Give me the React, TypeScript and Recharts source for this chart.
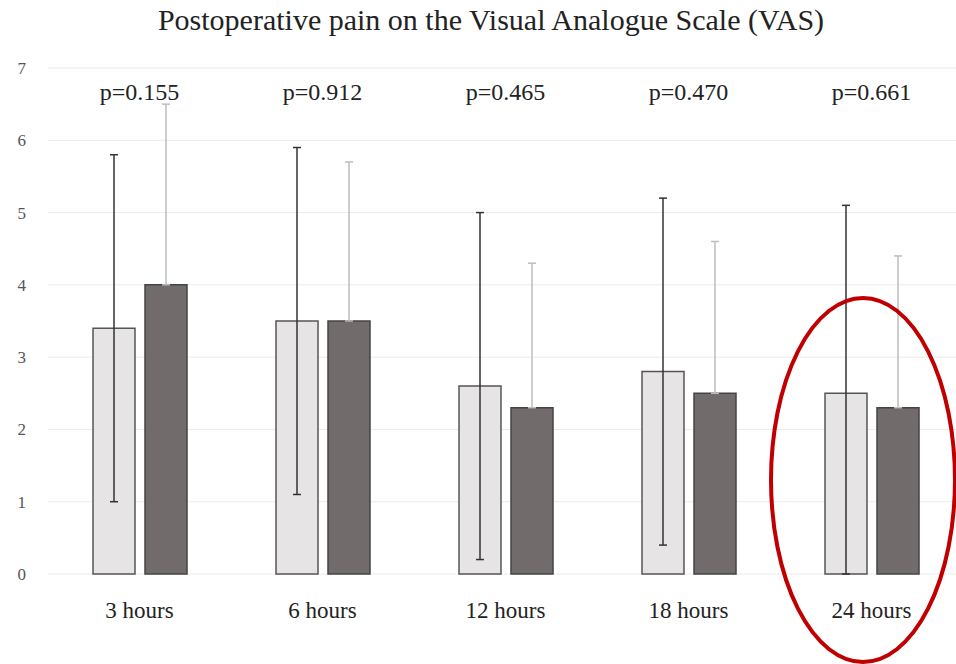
import React from 'react';
import { ComposedChart, Bar, Line, XAxis, YAxis, CartesianGrid, ErrorBar, LabelList } from 'recharts';

const categories = ['3 hours', '6 hours', '12 hours', '18 hours', '24 hours'];
const lightMean = [3.4, 3.5, 2.6, 2.8, 2.5];
const lightLow = [1.0, 1.1, 0.2, 0.4, 0.0];
const lightHigh = [5.8, 5.9, 5.0, 5.2, 5.1];
const darkMean = [4.0, 3.5, 2.3, 2.5, 2.3];
const darkHigh = [6.5, 5.7, 4.3, 4.6, 4.4];
const pValues = ['p=0.155', 'p=0.912', 'p=0.465', 'p=0.470', 'p=0.661'];
const yTicks = [0, 1, 2, 3, 4, 5, 6, 7];

// height (in VAS units) where the p-values sit
const P_LEVEL = 6.67;

const data = categories.map((name, i) => ({
  name,
  light: lightMean[i],
  lightErr: [lightMean[i] - lightLow[i], lightHigh[i] - lightMean[i]],
  dark: darkMean[i],
  darkErr: [0, darkHigh[i] - darkMean[i]],
  p: pValues[i],
}));

const serif = '"Liberation Serif", "DejaVu Serif", serif';

export default function App() {
  return (
    <div style={{ position: 'absolute', left: 0, top: 0, width: 956, height: 664, overflow: 'hidden', background: '#fff' }}>
      <div
        style={{
          position: 'absolute',
          top: 3,
          left: 0,
          width: 982,
          textAlign: 'center',
          fontFamily: serif,
          fontSize: 30,
          color: '#222',
          whiteSpace: 'nowrap',
        }}
      >
        Postoperative pain on the Visual Analogue Scale (VAS)
      </div>
      <ComposedChart
        width={975}
        height={664}
        data={data}
        margin={{ top: 68, right: 12, left: 0, bottom: 50 }}
        barSize={42}
        barGap={10}
        style={{ position: 'absolute', left: 0, top: 0 }}
      >
        <CartesianGrid horizontal vertical={false} stroke="#ebebeb" />
        <XAxis
          dataKey="name"
          axisLine={false}
          tickLine={false}
          tickMargin={22}
          tick={{ fill: '#222', fontSize: 23, fontFamily: serif }}
          height={40}
        />
        <YAxis
          domain={[0, 7]}
          ticks={yTicks}
          axisLine={false}
          tickLine={false}
          width={48}
          tickMargin={16}
          tick={{ fill: '#555', fontSize: 17, fontFamily: serif }}
        />
        <Bar dataKey="light" fill="#e6e4e4" stroke="#555" strokeWidth={1.5} isAnimationActive={false}>
          <ErrorBar dataKey="lightErr" width={4} stroke="#333" strokeWidth={1.5} direction="y" isAnimationActive={false} />
        </Bar>
        <Bar dataKey="dark" fill="#716b6b" stroke="#444" strokeWidth={1.5} isAnimationActive={false}>
          <ErrorBar dataKey="darkErr" width={4} stroke="#bdbdbd" strokeWidth={1.5} direction="y" isAnimationActive={false} />
        </Bar>
        <Line
          dataKey={() => P_LEVEL}
          stroke="none"
          dot={false}
          activeDot={false}
          isAnimationActive={false}
        >
          <LabelList dataKey="p" position="center" fill="#222" fontSize={24} fontFamily={serif} />
        </Line>
      </ComposedChart>
      <svg width={956} height={664} style={{ position: 'absolute', left: 0, top: 0, pointerEvents: 'none' }}>
        <ellipse cx={863} cy={480} rx={92} ry={182} fill="none" stroke="#c00000" strokeWidth={4} />
      </svg>
    </div>
  );
}
